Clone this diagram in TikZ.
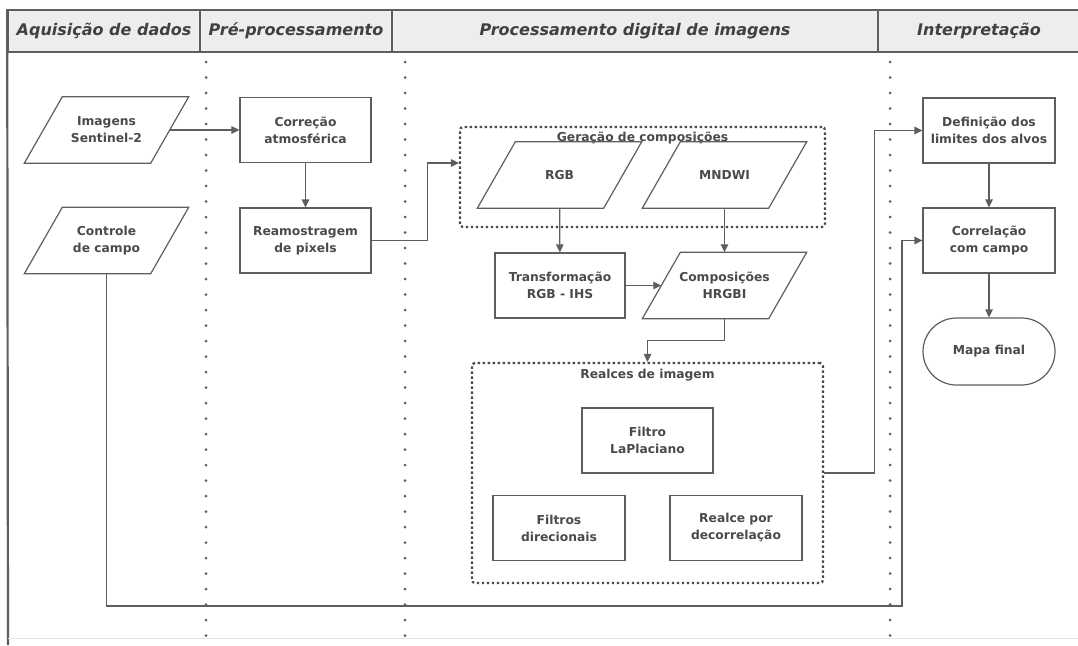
\documentclass[tikz,border=0pt]{standalone}
\usepackage{fontspec}
\setmainfont{DejaVu Sans}
\usetikzlibrary{shapes,arrows.meta}

\definecolor{linegray}{HTML}{5E5E5E}
\definecolor{txtgray}{HTML}{4A4A4A}
\definecolor{headfill}{HTML}{EDEDED}

\begin{document}
\begin{tikzpicture}[x=1pt,y=-1pt]
\tikzstyle{every node}=[font=\fontsize{12.3}{17}\selectfont\bfseries, text=txtgray, align=center, inner sep=0pt]
\tikzstyle{proc}=[rectangle, draw=linegray, line width=1.2pt, minimum width=131pt, minimum height=65pt]
\tikzstyle{dados}=[rectangle, minimum width=126pt, minimum height=66pt,
  append after command={\pgfextra{\draw[linegray, line width=1.2pt]
    ([xshift=19pt]\tikzlastnode.north west) -- ([xshift=19pt]\tikzlastnode.north east)
    -- ([xshift=-19pt]\tikzlastnode.south east) -- ([xshift=-19pt]\tikzlastnode.south west) -- cycle;}}]
\tikzstyle{fim}=[rounded rectangle, draw=linegray, line width=1.2pt, minimum width=132pt, minimum height=67pt]
\tikzstyle{grupo}=[draw=txtgray, line width=2.2pt, dash pattern=on 2.4pt off 2.6pt, rounded corners=3pt]
\tikzstyle{cab}=[draw=linegray, line width=1.6pt, fill=headfill, minimum height=42pt, text=black!75, font=\fontsize{16}{19}\selectfont\bfseries\itshape]
\tikzstyle{raia}=[draw=linegray, line width=3pt, line cap=round, dash pattern=on 0pt off 15.5pt]
\tikzstyle{seta}=[draw=linegray, line width=1.2pt, -{Triangle[length=8pt,width=7.5pt]}]
\clip (0,0) rectangle (1078,645);
\fill[white] (0,0) rectangle (1078,645);
\node[cab, minimum width=192pt] (aq) at (104,31) {Aquisição de dados};
\node[cab, minimum width=192pt] (pre) at (296,31) {Pré-processamento};
\node[cab, minimum width=486pt] (pdi) at (635,31) {Processamento digital de imagens};
\node[cab, minimum width=202pt] (int) at (979,31) {Interpretação};
\draw[linegray, line width=2.2pt] (aq.north west) -- (8,645);
\draw[gray!20, line width=1pt] (8,638) -- (1078,638);
\foreach \x in {206,405,890}
  \draw[raia] (\x,62) -- (\x,645);
\node[grupo, minimum width=365pt, minimum height=100pt] (ger) at (642.5,177) {};
\node (gerlbl) at ([yshift=-12pt]ger.north) {Geração de composições};
\node[grupo, minimum width=351pt, minimum height=220pt] (realces) at (647.5,473) {};
\node (reallbl) at ([yshift=-13pt]realces.north) {Realces de imagem};
\node[dados] (img) at (106.5,130) {Imagens\\Sentinel-2};
\node[dados] (ctrl) at (106.5,240.5) {Controle\\de campo};
\node[proc] (corr) at (305.5,130) {Correção\\atmosférica};
\node[proc] (ream) at (305.5,240.5) {Reamostragem\\de pixels};
\node[dados] (rgb) at (559.5,175) {RGB};
\node[dados] (mndwi) at (724.5,175) {MNDWI};
\node[proc, minimum width=130pt] (trans) at (560,285.5) {Transformação\\RGB - IHS};
\node[dados] (comp) at (724.5,285.5) {Composições\\HRGBI};
\node[proc] (lap) at (647.5,440.5) {Filtro\\LaPlaciano};
\node[proc, minimum width=132pt] (dir) at (559,528) {Filtros\\direcionais};
\node[proc, minimum width=132pt] (dec) at (736,528) {Realce por\\decorrelação};
\node[proc, minimum width=132pt] (def) at (989,130.5) {Definição dos\\limites dos alvos};
\node[proc, minimum width=132pt] (correl) at (989,240.5) {Correlação\\com campo};
\node[fim] (mapa) at (989,351.5) {Mapa final};
\coordinate (volta) at (902,606);
\draw[seta] (img) -- (corr);
\draw[seta] (corr) -- (ream);
\draw[seta] (ream.east) -- ++(56,0) |- ([yshift=14pt]ger.west);
\draw[seta] (rgb) -- (trans);
\draw[seta] (mndwi) -- (comp);
\draw[seta] (trans) -- (comp);
\draw[seta] (comp.south) -- ++(0,22) -| (realces.north);
\draw[seta] (realces.east) -- ++(50,0) |- (def.west);
\draw[seta] (def) -- (correl);
\draw[seta] (correl) -- (mapa);
\draw[seta] (ctrl.south) |- (volta) |- (correl.west);
\end{tikzpicture}
\end{document}
